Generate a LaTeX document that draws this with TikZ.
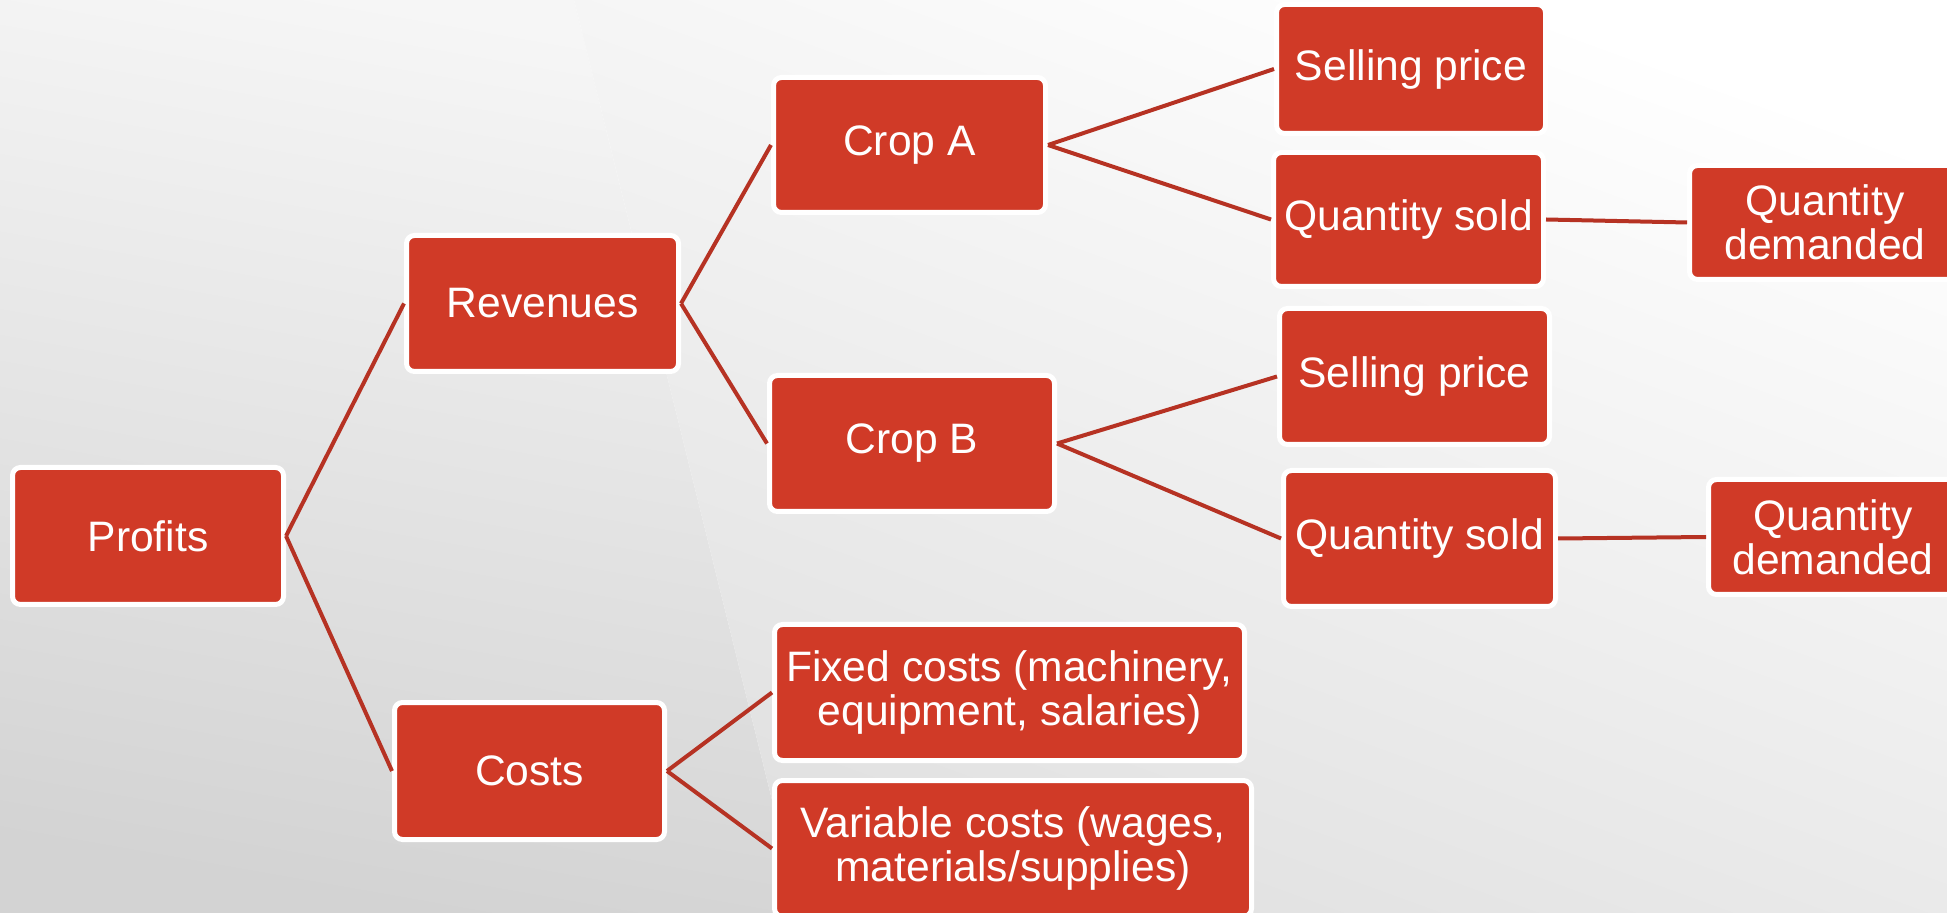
\documentclass[tikz,border=0pt]{standalone}
\usepackage{fontspec}
\setmainfont{Liberation Sans}
\definecolor{boxred}{HTML}{D03A27}
\definecolor{linkred}{HTML}{B63223}
\definecolor{bgA}{HTML}{F6F6F6}
\definecolor{bgB}{HTML}{D3D3D3}
\definecolor{bgC}{HTML}{FFFFFF}
\definecolor{bgD}{HTML}{E0E0E0}
\tikzset{
  box/.style={rectangle, rounded corners=4pt, fill=boxred, draw=white, line width=2.5pt,
    text=white, align=center, inner sep=2pt,
    font=\fontsize{21.3}{22}\selectfont},
  link/.style={draw=linkred, line width=2pt}
}
\begin{document}
\begin{tikzpicture}[x=0.5pt,y=-0.5pt]
\useasboundingbox (0,0) rectangle (1947,913);
\begin{scope}
\clip (0,0) rectangle (1947,913);
% background
\shade[shading=axis, top color=bgA, bottom color=bgB, shading angle=-10]
  (0,0) -- (574,0) -- (800,913) -- (0,913) -- cycle;
\shade[shading=axis, top color=bgC, bottom color=bgD, shading angle=-20]
  (574,0) -- (1947,0) -- (1947,913) -- (800,913) -- cycle;

% nodes
\node[box, minimum width=135.5pt, minimum height=68.5pt] (profits) at (148,536) {Profits};
\node[box, minimum width=136pt, minimum height=68pt] (rev) at (542.5,303.5) {Revenues};
\node[box, minimum width=135pt, minimum height=68.5pt] (costs) at (529.5,771) {Costs};
\node[box, minimum width=136pt, minimum height=67.5pt] (cropA) at (909.5,145) {Crop A};
\node[box, minimum width=142.5pt, minimum height=68pt] (cropB) at (912,443.5) {Crop B};
\node[box, minimum width=235pt, minimum height=68pt] (fixed) at (1009.5,692.5) {Fixed costs (machinery,\\equipment, salaries)};
\node[box, minimum width=238.5pt, minimum height=68pt] (var) at (1013,848.5) {Variable costs (wages,\\materials/supplies)};
\node[box, minimum width=134.5pt, minimum height=64.5pt] (spA) at (1411,69) {Selling price};
\node[box, minimum width=135pt, minimum height=67pt] (qsA) at (1408.5,219.5) {Quantity sold};
\node[box, minimum width=135pt, minimum height=68pt] (spB) at (1414.5,376.5) {Selling price};
\node[box, minimum width=136pt, minimum height=68pt] (qsB) at (1419.5,538.5) {Quantity sold};
\node[box, minimum width=135.5pt, minimum height=57pt] (qdA) at (1825,222.5) {Quantity\\demanded};
\node[box, minimum width=124.5pt, minimum height=57.5pt] (qdB) at (1833,537) {Quantity\\demanded};

% connectors
\draw[link] (profits.east) -- (rev.west);
\draw[link] (profits.east) -- (costs.west);
\draw[link] (rev.east) -- (cropA.west);
\draw[link] (rev.east) -- (cropB.west);
\draw[link] (costs.east) -- (fixed.west);
\draw[link] (costs.east) -- (var.west);
\draw[link] (cropA.east) -- (spA.west);
\draw[link] (cropA.east) -- (qsA.west);
\draw[link] (cropB.east) -- (spB.west);
\draw[link] (cropB.east) -- (qsB.west);
\draw[link] (qsA.east) -- (qdA.west);
\draw[link] (qsB.east) -- (qdB.west);
\end{scope}
\end{tikzpicture}
\end{document}
